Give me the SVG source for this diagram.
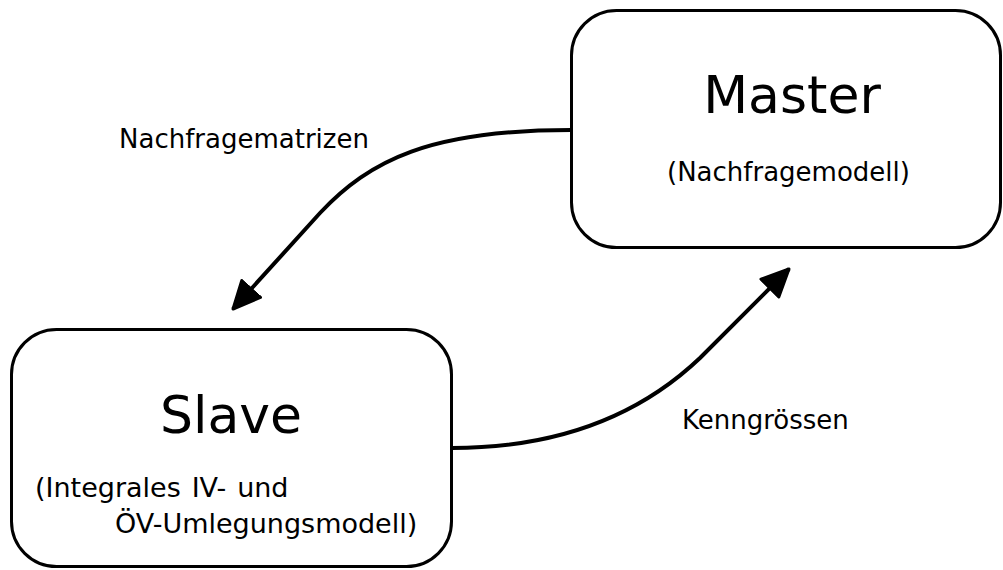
<svg xmlns="http://www.w3.org/2000/svg" width="1003" height="570" viewBox="0 0 1003 570">
<style>
.box{fill:#fff;stroke:#000;stroke-width:3}
.title{font-family:"DejaVu Sans",sans-serif;font-size:52px;fill:#000;text-anchor:middle}
.sub{font-family:"DejaVu Sans",sans-serif;font-size:26px;fill:#000}
.sub2{font-family:"DejaVu Sans",sans-serif;font-size:27px;fill:#000}
.lbl{font-family:"DejaVu Sans",sans-serif;font-size:26px;fill:#000}
.edge{fill:none;stroke:#000;stroke-width:4}
</style>
<defs>
<marker id="arr" viewBox="0 0 10 10" refX="9.5" refY="5" markerWidth="7.5" markerHeight="7.5" orient="auto" markerUnits="strokeWidth">
<path d="M0.5,0.8 L9.5,5 L0.5,9.2 Z" fill="#000" stroke="#000" stroke-width="1" stroke-linejoin="round"/>
</marker>
</defs>
<rect width="1003" height="570" fill="#fff"/>
<g id="edges">
<path class="edge" d="M571,130 C430,130 370,160 320,213 L233,309" marker-end="url(#arr)"/>
<path class="edge" d="M452,448 C560,448 640,415 700,358 L789,269" marker-end="url(#arr)"/>
<text class="lbl" x="119" y="148">Nachfragematrizen</text>
<text class="lbl" x="682" y="429">Kenngrössen</text>
</g>
<g id="master">
<rect class="box" x="571.5" y="10.5" width="429" height="237" rx="45"/>
<text class="title" x="792" y="113">Master</text>
<text class="sub" x="667" y="181">(Nachfragemodell)</text>
</g>
<g id="slave">
<rect class="box" x="11.5" y="329.5" width="440" height="237" rx="45"/>
<text class="title" x="231" y="433">Slave</text>
<text class="sub2" x="35" y="497" word-spacing="2.3">(Integrales IV- und</text>
<text class="sub2" x="115" y="533">ÖV-Umlegungsmodell)</text>
</g>
</svg>
